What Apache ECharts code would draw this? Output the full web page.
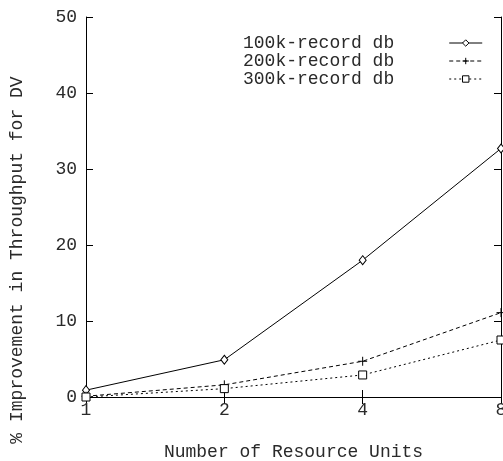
<!DOCTYPE html>
<html>
<head>
<meta charset="utf-8">
<script src="https://cdn.jsdelivr.net/npm/echarts@6/dist/echarts.min.js"></script>
<style>
  html, body { margin: 0; padding: 0; background: #fff; }
  #chart { width: 503px; height: 461px; }
</style>
</head>
<body>
<div id="chart"></div>
<script>
// Resource units on the x axis (evenly spaced, doubling)
const units = ['1', '2', '4', '8'];
// Percentage improvement in throughput, per database size
const db100k = [0.9, 4.9, 18.0, 32.7];
const db200k = [0.1, 1.6, 4.7, 11.1];
const db300k = [0.0, 1.1, 2.9, 7.5];
const seriesNames = ['100k-record db', '200k-record db', '300k-record db'];

const FONT = 'Liberation Mono';
const INK = '#000';
const TEXT = '#2a2a2a';

const chart = echarts.init(document.getElementById('chart'), null, { renderer: 'canvas' });

const axisLine = { show: true, lineStyle: { color: INK, width: 1 } };
const tickIn = { show: true, inside: true, length: 7, lineStyle: { color: INK, width: 1 } };

function lineSeries(name, data, type, symbol, size) {
  return {
    name: name,
    type: 'line',
    data: data,
    symbol: symbol,
    symbolSize: size,
    showSymbol: true,
    lineStyle: { color: INK, width: 1, type: type },
    itemStyle: { color: '#fff', borderColor: INK, borderWidth: 1 },
    emphasis: { disabled: true },
    animation: false,
    z: 3
  };
}

chart.setOption({
  animation: false,
  backgroundColor: '#fff',
  textStyle: { fontFamily: FONT },
  grid: { left: 86, right: 2, top: 17, bottom: 64, containLabel: false, outerBoundsMode: 'none' },
  legend: {
    data: seriesNames,
    orient: 'vertical',
    left: 238,
    top: 29,
    align: 'right',
    itemWidth: 33,
    itemHeight: 8,
    itemGap: 0,
    lineStyle: { width: 1 },
    itemStyle: { borderWidth: 1 },
    textStyle: { fontFamily: FONT, fontSize: 18, lineHeight: 17, color: TEXT, padding: [0, 50, 0, 0] },
    inactiveColor: INK
  },
  xAxis: [
    {
      type: 'category',
      data: units,
      boundaryGap: false,
      position: 'bottom',
      axisLine: axisLine,
      axisTick: Object.assign({ alignWithLabel: true }, tickIn),
      axisLabel: { fontFamily: FONT, fontSize: 18, color: TEXT, margin: 4 },
      splitLine: { show: false },
      name: 'Number of Resource Units',
      nameLocation: 'middle',
      nameGap: 46,
      nameTextStyle: { fontFamily: FONT, fontSize: 18, color: TEXT }
    },
    {
      type: 'category',
      data: units,
      boundaryGap: false,
      position: 'top',
      axisLine: axisLine,
      axisTick: tickIn,
      axisLabel: { show: false },
      splitLine: { show: false }
    }
  ],
  yAxis: [
    {
      type: 'value',
      min: 0,
      max: 50,
      interval: 10,
      position: 'left',
      axisLine: axisLine,
      axisTick: tickIn,
      axisLabel: { fontFamily: FONT, fontSize: 18, color: TEXT, margin: 9 },
      splitLine: { show: false },
      name: '% Improvement in Throughput for DV',
      nameLocation: 'middle',
      nameRotate: 90,
      nameGap: 60,
      nameTextStyle: { fontFamily: FONT, fontSize: 18, color: TEXT, padding: [0, 106, 0, 0] }
    },
    {
      type: 'value',
      min: 0,
      max: 50,
      interval: 10,
      position: 'right',
      axisLine: axisLine,
      axisTick: tickIn,
      axisLabel: { show: false },
      splitLine: { show: false }
    }
  ],
  series: [
    lineSeries(seriesNames[0], db100k, 'solid', 'diamond', [7, 9]),
    lineSeries(seriesNames[1], db200k, [4, 3], 'path://M0,5L10,5M5,0L5,10', 9),
    lineSeries(seriesNames[2], db300k, [2, 3], 'rect', 8)
  ]
});
</script>
</body>
</html>
